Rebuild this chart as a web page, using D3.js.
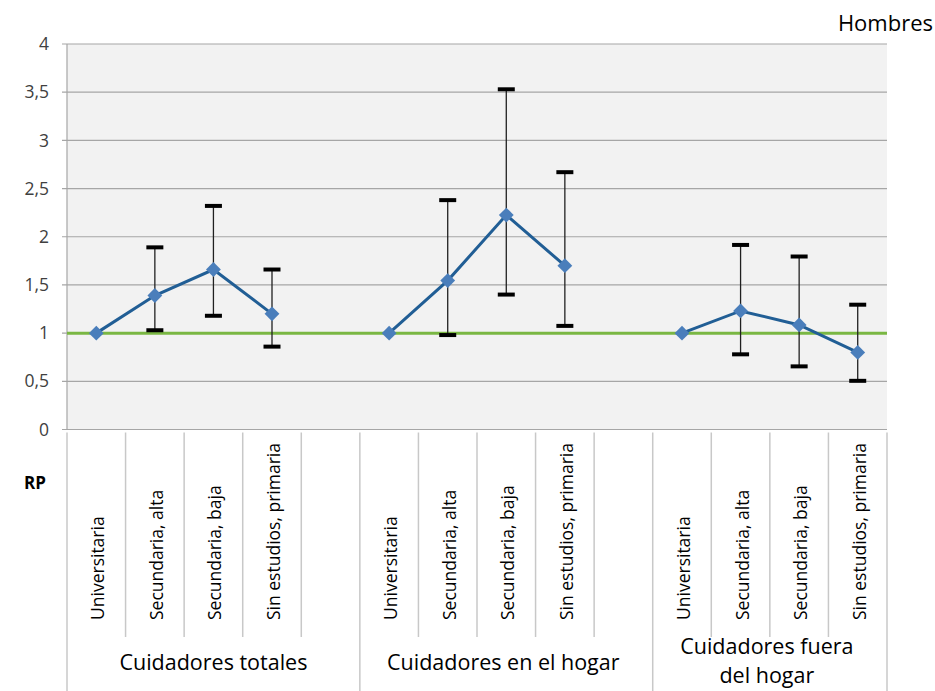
<!DOCTYPE html>
<html><head><meta charset="utf-8">
<script src="https://cdn.jsdelivr.net/npm/d3@7"></script>
<style>body{margin:0;background:#fff}svg{display:block}text{font-family:"Open Sans",sans-serif}</style>
</head><body>
<script>
const groups = ["Cuidadores totales", "Cuidadores en el hogar", "Cuidadores fuera del hogar"];
const levels = ["Universitaria", "Secundaria, alta", "Secundaria, baja", "Sin estudios, primaria"];
const blankAfter = [true, true, false];
const rp    = [[1.0, 1.39, 1.66, 1.20], [1.0, 1.545, 2.225, 1.70], [1.0, 1.23, 1.085, 0.80]];
const lower = [[null, 1.03, 1.18, 0.86], [null, 0.98, 1.40, 1.075], [null, 0.78, 0.655, 0.505]];
const upper = [[null, 1.89, 2.32, 1.66], [null, 2.38, 3.53, 2.67], [null, 1.915, 1.795, 1.295]];
const yTicks = [0, 0.5, 1, 1.5, 2, 2.5, 3, 3.5, 4];
const refValue = 1;

const W = 935, H = 691;
const svg = d3.select("body").append("svg").attr("width", W).attr("height", H);
const L = 67, R = 887, T = 44, B = 429.5;

// slots
const slots = [];
groups.forEach((g, gi) => {
  levels.forEach((lv, li) => slots.push({g: gi, l: li, key: gi + "-" + li, label: lv}));
  if (blankAfter[gi]) slots.push({g: gi, l: -1, key: gi + "-blank", label: ""});
});
const x = d3.scaleBand().domain(slots.map(s => s.key)).range([L, R]).padding(0);
const y = d3.scaleLinear().domain([0, 4]).range([B, T]);
const fmt = v => String(v).replace(".", ",");

svg.append("rect").attr("x", L).attr("y", T).attr("width", R - L).attr("height", B - T).attr("fill", "#f2f2f2");

// gridlines
svg.append("g").selectAll("line").data(yTicks).join("line")
  .attr("x1", L - 5).attr("x2", R).attr("y1", d => y(d)).attr("y2", d => y(d))
  .attr("stroke", "#a6a6a6").attr("stroke-width", 1.2);
svg.append("line").attr("x1", L).attr("x2", L).attr("y1", T).attr("y2", B).attr("stroke", "#a6a6a6").attr("stroke-width", 1.2);

// y labels
svg.append("g").selectAll("text").data(yTicks).join("text")
  .attr("x", 49).attr("y", d => y(d)).attr("dy", "0.35em").attr("text-anchor", "end")
  .attr("font-size", 17.5).attr("fill", "#404040").text(fmt);

// separators below axis
const sep = svg.append("g").attr("stroke", "#c8c8c8").attr("stroke-width", 1.5);
slots.forEach((s, i) => {
  const xl = x(s.key);
  const isGroupStart = i === 0 || slots[i - 1].g !== s.g;
  sep.append("line").attr("x1", xl).attr("x2", xl).attr("y1", B + 3).attr("y2", isGroupStart ? H : 637);
});
sep.append("line").attr("x1", R).attr("x2", R).attr("y1", B + 3).attr("y2", H);

// category labels
svg.append("g").selectAll("text").data(slots.filter(s => s.label)).join("text")
  .attr("transform", d => `translate(${x(d.key) + x.bandwidth() / 2 + 8},620) rotate(-90)`)
  .attr("text-anchor", "start").attr("font-size", 17.5).attr("fill", "#000").text(d => d.label);

// group labels
groups.forEach((g, gi) => {
  const gs = slots.filter(s => s.g === gi);
  const x0 = x(gs[0].key), x1 = x(gs[gs.length - 1].key) + x.bandwidth();
  const cx = (x0 + x1) / 2 - (gi === 0 ? 0 : 3);
  const t = svg.append("text").attr("x", cx).attr("text-anchor", "middle").attr("font-size", 21.5).attr("fill", "#000");
  if (gi === 2) {
    t.attr("y", 654);
    t.append("tspan").attr("x", cx).text("Cuidadores fuera");
    t.append("tspan").attr("x", cx).attr("dy", 29).text("del hogar");
  } else {
    t.attr("y", 670).text(g);
  }
});

// axis title & title
svg.append("text").attr("x", 24).attr("y", 489).attr("font-size", 17).attr("font-weight", "bold").text("RP");
svg.append("text").attr("x", 933).attr("y", 31).attr("text-anchor", "end").attr("font-size", 22).text("Hombres");

// reference line
svg.append("line").attr("x1", L).attr("x2", R).attr("y1", y(refValue)).attr("y2", y(refValue))
  .attr("stroke", "#7ab743").attr("stroke-width", 3);

// data
const line = d3.line().x(d => x(d.key) + x.bandwidth() / 2).y(d => y(d.v));
groups.forEach((g, gi) => {
  const pts = levels.map((lv, li) => ({key: gi + "-" + li, v: rp[gi][li], lo: lower[gi][li], hi: upper[gi][li]}));
  const eb = svg.append("g");
  pts.filter(p => p.lo != null).forEach(p => {
    const cx = x(p.key) + x.bandwidth() / 2;
    eb.append("line").attr("x1", cx).attr("x2", cx).attr("y1", y(p.lo)).attr("y2", y(p.hi)).attr("stroke", "#202020").attr("stroke-width", 1.3);
    [p.lo, p.hi].forEach(v => eb.append("line").attr("x1", cx - 8.5).attr("x2", cx + 8.5).attr("y1", y(v)).attr("y2", y(v)).attr("stroke", "#000").attr("stroke-width", 4));
  });
  svg.append("path").datum(pts).attr("d", line).attr("fill", "none").attr("stroke", "#215e95").attr("stroke-width", 3);
  svg.append("g").selectAll("path").data(pts).join("path")
    .attr("transform", d => `translate(${x(d.key) + x.bandwidth() / 2},${y(d.v)}) rotate(45)`)
    .attr("d", d3.symbol(d3.symbolSquare, 110)).attr("fill", "#4a7ebb");
});
</script>
</body></html>
